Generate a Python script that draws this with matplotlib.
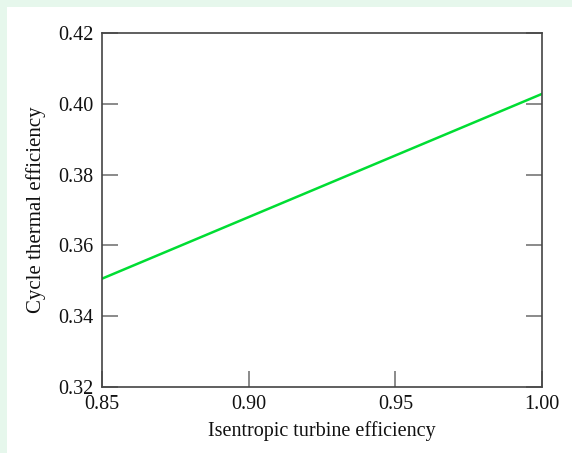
import numpy as np
import matplotlib
matplotlib.use("Agg")
import matplotlib.pyplot as plt
from matplotlib.patches import Rectangle

# turbine isentropic efficiency vs. cycle thermal efficiency
turbine_eff = [0.85, 0.90, 0.95, 1.00]
cycle_eff = [0.3506, 0.3680, 0.3854, 0.4028]

x_ticks = [0.85, 0.90, 0.95, 1.00]
y_ticks = [0.32, 0.34, 0.36, 0.38, 0.40, 0.42]

plt.rcParams['font.family'] = ['Liberation Serif', 'DejaVu Serif']

fig = plt.figure(figsize=(5.72, 4.53), dpi=100, facecolor='#e6f7ec')
# white panel, leaving a thin green strip on the top and left
panel = Rectangle((7 / 572, 0), 1, 1 - 7 / 453, transform=fig.transFigure,
                  facecolor='white', edgecolor='none', zorder=-10)
fig.add_artist(panel)

ax = fig.add_axes([102 / 572, 1 - 387 / 453, 440 / 572, 354 / 453])
ax.set_zorder(1)
ax.plot(turbine_eff, cycle_eff, color='#00dd33', linewidth=1.8)

ax.set_xlim(0.85, 1.00)
ax.set_ylim(0.32, 0.42)
ax.set_xticks(x_ticks)
ax.set_yticks(y_ticks)
ax.set_xticklabels([f'{v:.2f}' for v in x_ticks])
ax.set_yticklabels([f'{v:.2f}' for v in y_ticks])

ax.tick_params(direction='in', length=11.5, width=1.2, color='#777777',
               labelsize=14.5, pad=6, right=True, top=False, labelcolor='#111111')
for s in ax.spines.values():
    s.set_color('#444444')
    s.set_linewidth(1.2)

ax.set_xlabel('Isentropic turbine efficiency', fontsize=14.5, labelpad=5, color='#111111')
ax.set_ylabel('Cycle thermal efficiency', fontsize=15, labelpad=9, color='#111111')

fig.savefig('out.png', dpi=100, facecolor=fig.get_facecolor())
